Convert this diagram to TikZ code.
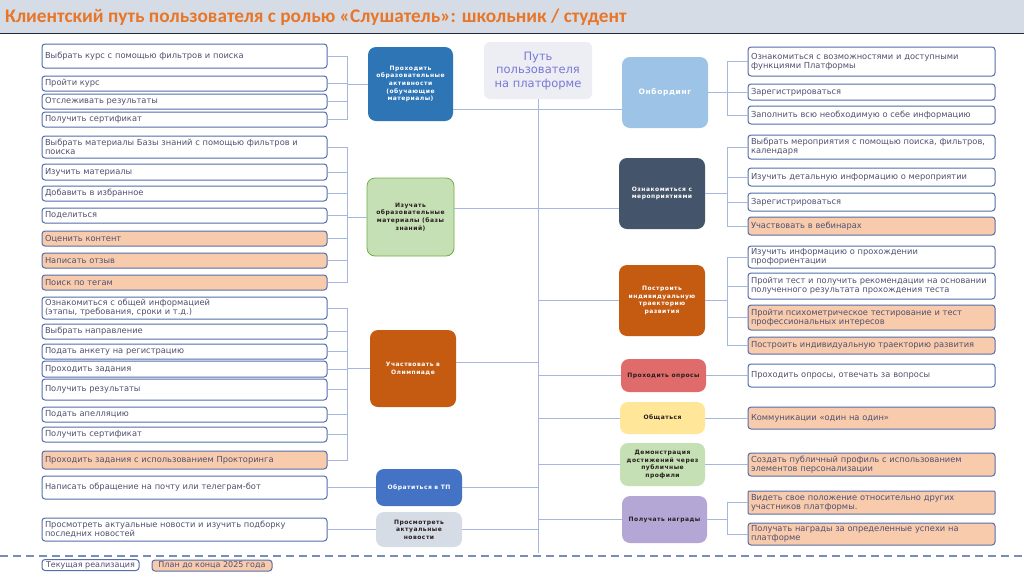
\documentclass[tikz,border=0pt]{standalone}
\usepackage{fontspec}
\setmainfont{DejaVu Sans}
\newfontfamily\headfont{Carlito}
\newfontfamily\hubfont[LetterSpace=8]{DejaVu Sans}
\usetikzlibrary{positioning, calc}
\definecolor{titleBg}{RGB}{214,220,229}
\definecolor{titleLine}{RGB}{31,42,58}
\definecolor{titleText}{RGB}{232,118,40}
\definecolor{leafEdge}{RGB}{84,110,170}
\definecolor{leafText}{RGB}{80,80,112}
\definecolor{planFill}{RGB}{248,203,173}
\definecolor{linkCol}{RGB}{165,183,222}
\definecolor{sepCol}{RGB}{120,142,184}
\definecolor{learnFill}{RGB}{46,117,182}
\definecolor{kbFill}{RGB}{197,224,180}
\definecolor{kbEdge}{RGB}{112,173,71}
\definecolor{olympFill}{RGB}{197,90,17}
\definecolor{tpFill}{RGB}{68,114,196}
\definecolor{newsFill}{RGB}{214,220,229}
\definecolor{rootFill}{RGB}{237,237,244}
\definecolor{rootText}{RGB}{120,120,215}
\definecolor{onbFill}{RGB}{157,195,230}
\definecolor{eventsFill}{RGB}{68,84,106}
\definecolor{pollsFill}{RGB}{224,107,107}
\definecolor{chatFill}{RGB}{255,230,153}
\definecolor{demoFill}{RGB}{197,224,180}
\definecolor{awardsFill}{RGB}{180,167,214}
\definecolor{hubDark}{RGB}{40,30,30}

\begin{document}
\begin{tikzpicture}[
    x=1pt, y=-1pt,
    leaf/.style={rectangle, draw=leafEdge, line width=1pt, rounded corners=3pt, fill=white, text=leafText, align=left, inner xsep=3pt, inner ysep=0pt, font=\fontsize{8.3}{9.2}\selectfont},
    leafL/.style={leaf, minimum width=285pt, text width=279pt},
    leafR/.style={leaf, minimum width=247pt, text width=241pt},
    plan/.style={fill=planFill},
    hub/.style={rectangle, rounded corners=8pt, align=center, inner sep=2pt, text=white, minimum width=86pt, font=\hubfont\fontsize{6}{7.6}\selectfont\bfseries},
    link/.style={draw=linkCol, line width=0.9pt}
]

\useasboundingbox (0,0) rectangle (1024,574);
\fill[white] (0,0) rectangle (1024,574);

% --- Заголовок ---
\fill[titleBg] (0,0) rectangle (1024,33);
\draw[titleLine, line width=1.5pt] (0,33.5) -- (1024,33.5);
\node[anchor=west, inner sep=0pt, text=titleText, font=\headfont\fontsize{19.3}{20}\selectfont\bfseries] (title) at (5,17)
    {Клиентский путь пользователя с ролью «Слушатель»: школьник / студент};

% --- Корень ---
\node[hub, fill=rootFill, text=rootText, minimum width=108pt, minimum height=57pt, rounded corners=6pt, font=\fontsize{11.5}{13.5}\selectfont] (root) at (538,70.5)
    {Путь\\пользователя\\на платформе};

% --- Левая сторона: хабы ---
\node[hub, fill=learnFill, minimum width=85pt, minimum height=74pt] (learn) at (410.5,84)
    {Проходить\\образовательные\\активности\\(обучающие\\материалы)};
\node[hub, fill=kbFill, draw=kbEdge, thick, text=hubDark, minimum width=87pt, minimum height=78pt] (kb) at (410.5,217)
    {Изучать\\образовательные\\материалы (базы\\знаний)};
\node[hub, fill=olympFill, minimum width=86pt, minimum height=77pt] (olymp) at (413,368.5)
    {Участвовать в\\Олимпиаде};
\node[hub, fill=tpFill, minimum width=86pt, minimum height=37pt] (support) at (419,487.5)
    {Обратиться в ТП};
\node[hub, fill=newsFill, text=hubDark, minimum width=86pt, minimum height=35pt] (news) at (419,529.5)
    {Просмотреть\\актуальные\\новости};

% --- Правая сторона: хабы ---
\node[hub, fill=onbFill, minimum width=86pt, minimum height=71pt, font=\hubfont\fontsize{7.5}{9}\selectfont\bfseries] (onb) at (665,92.5)
    {Онбординг};
\node[hub, fill=eventsFill, minimum height=71pt] (events) at (662,193.5)
    {Ознакомиться с\\мероприятиями};
\node[hub, fill=olympFill, minimum height=71pt] (traj) at (662,300.5)
    {Построить\\индивидуальную\\траекторию\\развития};
\node[hub, fill=pollsFill, text=hubDark, minimum width=85pt, minimum height=33pt] (polls) at (663.5,375.5)
    {Проходить опросы};
\node[hub, fill=chatFill, text=hubDark, minimum width=85pt, minimum height=32pt] (chat) at (662.5,418)
    {Общаться};
\node[hub, fill=demoFill, text=hubDark, minimum width=85pt, minimum height=43pt] (demo) at (662.5,464.5)
    {Демонстрация\\достижений через\\публичные\\профили};
\node[hub, fill=awardsFill, text=hubDark, minimum width=85pt, minimum height=47pt] (awards) at (664.5,519.5)
    {Получать награды};

% --- Левые шаги ---
\node[leafL, minimum height=24pt] (a1) at (184.5,56) {Выбрать курс с помощью фильтров и поиска};
\node[leafL, minimum height=15pt] (a2) at (184.5,83.5) {Пройти курс};
\node[leafL, minimum height=15pt] (a3) at (184.5,101.5) {Отслеживать результаты};
\node[leafL, minimum height=15pt] (a4) at (184.5,119.5) {Получить сертификат};

\node[leafL, minimum height=22pt] (b1) at (184.5,147) {Выбрать материалы Базы знаний с помощью фильтров и\\поиска};
\node[leafL, minimum height=16pt] (b2) at (184.5,172) {Изучить материалы};
\node[leafL, minimum height=15pt] (b3) at (184.5,193.5) {Добавить в избранное};
\node[leafL, minimum height=15pt] (b4) at (184.5,215.5) {Поделиться};
\node[leafL, plan, minimum height=15pt] (b5) at (184.5,238.5) {Оценить контент};
\node[leafL, plan, minimum height=15pt] (b6) at (184.5,260.5) {Написать отзыв};
\node[leafL, plan, minimum height=15pt] (b7) at (184.5,282.5) {Поиск по тегам};

\node[leafL, minimum height=22pt] (c1) at (184.5,308) {Ознакомиться с общей информацией\\(этапы, требования, сроки и т.д.)};
\node[leafL, minimum height=15pt] (c2) at (184.5,331.5) {Выбрать направление};
\node[leafL, minimum height=15pt] (c3) at (184.5,351.5) {Подать анкету на регистрацию};
\node[leafL, minimum height=16pt] (c4) at (184.5,369) {Проходить задания};
\node[leafL, minimum height=21pt] (c5) at (184.5,389.5) {Получить результаты};
\node[leafL, minimum height=15pt] (c6) at (184.5,414.5) {Подать апелляцию};
\node[leafL, minimum height=15pt] (c7) at (184.5,434.5) {Получить сертификат};
\node[leafL, plan, minimum height=18pt] (c8) at (184.5,460) {Проходить задания с использованием Прокторинга};

\node[leafL, minimum height=23pt] (d1) at (184.5,487.5) {Написать обращение на почту или телеграм-бот};
\node[leafL, minimum height=23pt] (e1) at (184.5,529.5) {Просмотреть актуальные новости и изучить подборку\\последних новостей};

% --- Правые шаги ---
\node[leafR, minimum height=29pt] (o1) at (871.5,61.5) {Ознакомиться с возможностями и доступными\\функциями Платформы};
\node[leafR, minimum height=16pt] (o2) at (871.5,92) {Зарегистрироваться};
\node[leafR, minimum height=18pt] (o3) at (871.5,115) {Заполнить всю необходимую о себе информацию};

\node[leafR, minimum height=24pt] (m1) at (871.5,147) {Выбрать мероприятия с помощью поиска, фильтров,\\календаря};
\node[leafR, minimum height=18pt] (m2) at (871.5,177) {Изучить детальную информацию о мероприятии};
\node[leafR, minimum height=18pt] (m3) at (871.5,202) {Зарегистрироваться};
\node[leafR, plan, minimum height=18pt] (m4) at (871.5,226) {Участвовать в вебинарах};

\node[leafR, minimum height=22pt] (p1) at (871.5,257) {Изучить информацию о прохождении\\профориентации};
\node[leafR, minimum height=26pt] (p2) at (871.5,286) {Пройти тест и получить рекомендации на основании\\полученного результата прохождения теста};
\node[leafR, plan, minimum height=25pt] (p3) at (871.5,317.5) {Пройти психометрическое тестирование и тест\\профессиональных интересов};
\node[leafR, plan, minimum height=17pt] (p4) at (871.5,345.5) {Построить индивидуальную траекторию развития};

\node[leafR, minimum height=23pt] (q1) at (871.5,375.5) {Проходить опросы, отвечать за вопросы};
\node[leafR, plan, minimum height=22pt] (s1) at (871.5,418) {Коммуникации «один на один»};
\node[leafR, plan, minimum height=23pt] (t1) at (871.5,464.5) {Создать публичный профиль с использованием\\элементов персонализации};
\node[leafR, plan, minimum height=23pt, rounded corners=1pt] (r1) at (871.5,502.5) {Видеть свое положение относительно других\\участников платформы.};
\node[leafR, plan, minimum height=22pt] (r2) at (871.5,534) {Получать награды за определенные успехи на\\платформе};

% === СВЯЗИ ===
\coordinate (busL) at (347,0);
\coordinate (busR) at (727,0);

% Ствол
\coordinate (trunkEnd) at (538,553);
\draw[link] (root.south) -- (trunkEnd);

% Сквозные линии через ствол
\coordinate (j1) at (538,109);
\draw[link] (j1 -| learn.east) -- (j1 -| onb.west);
\coordinate (j2) at (538,208);
\draw[link] (j2 -| kb.east) -- (j2 -| events.west);
\coordinate (j3) at (538,362);
\draw[link] (j3 -| olymp.east) -- (j3);

\foreach \n in {traj, polls, chat, demo, awards}
    \draw[link] (\n.west) -- (\n.west -| root.south);
\foreach \n in {support, news}
    \draw[link] (\n.east) -- (\n.east -| root.south);

% Левые веера
\draw[link] (a1.east) -- (a1.east -| busL) -- (a4.east -| busL) -- (a4.east);
\draw[link] (b1.east) -- (b1.east -| busL) -- (b7.east -| busL) -- (b7.east);
\draw[link] (c1.east) -- (c1.east -| busL) -- (c8.east -| busL) -- (c8.east);
\foreach \n in {a2, a3, b2, b3, b4, b5, b6, c2, c3, c4, c5, c6, c7}
    \draw[link] (\n.east) -- (\n.east -| busL);
\foreach \n in {learn, kb, olymp}
    \draw[link] (\n.west) -- (\n.west -| busL);

% Правые веера
\draw[link] (o1.west) -- (o1.west -| busR) -- (o3.west -| busR) -- (o3.west);
\draw[link] (m1.west) -- (m1.west -| busR) -- (m4.west -| busR) -- (m4.west);
\draw[link] (p1.west) -- (p1.west -| busR) -- (p4.west -| busR) -- (p4.west);
\draw[link] (r1.west) -- (r1.west -| busR) -- (r2.west -| busR) -- (r2.west);
\foreach \n in {o2, m2, m3, p2, p3}
    \draw[link] (\n.west) -- (\n.west -| busR);
\foreach \n in {onb, events, traj, awards}
    \draw[link] (\n.east) -- (\n.east -| busR);

% Прямые связи
\draw[link] (support) -- (d1);
\draw[link] (news) -- (e1);
\draw[link] (polls) -- (q1);
\draw[link] (chat) -- (s1);
\draw[link] (demo) -- (t1);

% --- Разделитель и легенда ---
\draw[sepCol, line width=1.3pt, dash pattern=on 8pt off 5pt] (0,556) -- (1024,556);
\node[leaf, minimum width=97pt, minimum height=11pt, inner xsep=2pt, font=\fontsize{8}{9}\selectfont] (legNow) at (90.5,565) {Текущая реализация};
\node[leaf, plan, minimum width=120pt, minimum height=11pt, inner xsep=2pt, font=\fontsize{8}{9}\selectfont] (legPlan) at (212,565.5) {План до конца 2025 года};

\end{tikzpicture}
\end{document}
